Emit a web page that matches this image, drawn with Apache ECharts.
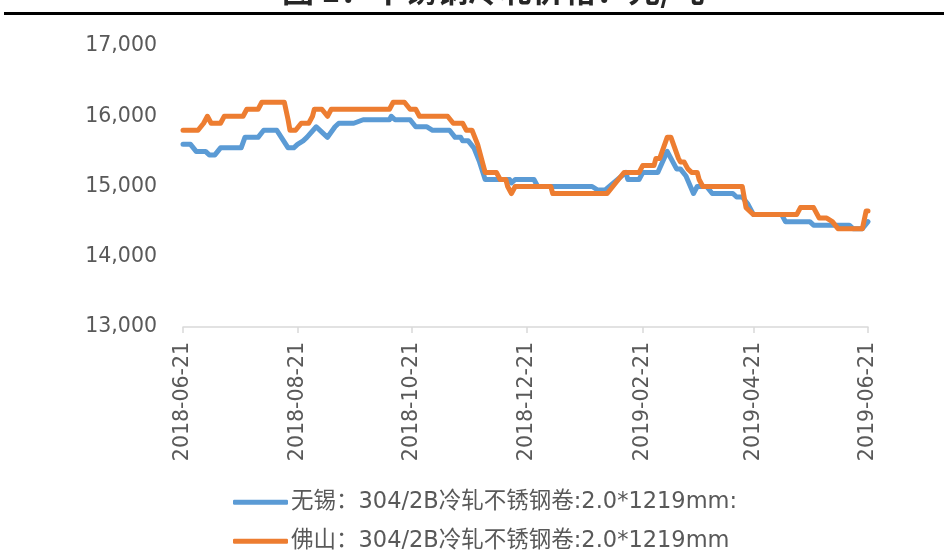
<!DOCTYPE html>
<html>
<head>
<meta charset="utf-8">
<script src="https://cdn.jsdelivr.net/npm/echarts@6/dist/echarts.min.js"></script>
<style>
  html, body { margin: 0; padding: 0; background: #fff; }
  #chart { width: 944px; height: 555px; }
</style>
</head>
<body>
<div id="chart"></div>
<script>
// 起点日期, 横轴按天偏移
const startDate = [2018, 5, 21];
const tickDates = ['2018-06-21', '2018-08-21', '2018-10-21', '2018-12-21', '2019-02-21', '2019-04-21', '2019-06-21'];
const yTicks = [13000, 14000, 15000, 16000, 17000];

// 无锡
const wuxiDays = [0, 4, 7, 12, 14, 17, 20, 31, 33, 40, 43, 50, 56, 59, 61, 64, 66, 71, 73, 77, 81, 83, 91, 96, 110, 111, 113, 121, 124, 130, 133, 142, 145, 148, 149, 152, 155, 158, 161, 174, 175, 177, 187, 189, 218, 221, 225, 236, 237, 243, 245, 253, 258, 261, 263, 265, 268, 272, 274, 279, 282, 293, 295, 298, 301, 304, 319, 321, 334, 336, 355, 357, 362, 365];
const wuxiValues = [15600, 15600, 15500, 15500, 15450, 15450, 15550, 15550, 15700, 15700, 15800, 15800, 15550, 15550, 15600, 15650, 15700, 15850, 15800, 15700, 15850, 15900, 15900, 15950, 15950, 16000, 15950, 15950, 15850, 15850, 15800, 15800, 15700, 15700, 15650, 15650, 15550, 15350, 15100, 15100, 15050, 15100, 15100, 15000, 15000, 14950, 14950, 15200, 15100, 15100, 15200, 15200, 15500, 15350, 15250, 15250, 15150, 14900, 15000, 15000, 14900, 14900, 14850, 14850, 14750, 14600, 14600, 14500, 14500, 14450, 14450, 14400, 14400, 14500];

// 佛山
const foshanDays = [0, 8, 11, 13, 15, 20, 22, 32, 34, 40, 42, 54, 56, 57, 60, 63, 67, 69, 70, 74, 77, 79, 110, 112, 118, 121, 124, 126, 141, 144, 149, 151, 154, 157, 161, 167, 169, 172, 173, 175, 177, 196, 197, 226, 235, 243, 245, 251, 252, 254, 258, 260, 264, 265, 267, 269, 271, 274, 275, 277, 298, 300, 304, 327, 329, 336, 339, 343, 346, 347, 349, 362, 364, 365];
const foshanValues = [15800, 15800, 15900, 16000, 15900, 15900, 16000, 16000, 16100, 16100, 16200, 16200, 15950, 15800, 15800, 15900, 15900, 16000, 16100, 16100, 16000, 16100, 16100, 16200, 16200, 16100, 16100, 16000, 16000, 15900, 15900, 15800, 15800, 15600, 15200, 15200, 15100, 15100, 15000, 14900, 15000, 15000, 14900, 14900, 15200, 15200, 15300, 15300, 15400, 15400, 15700, 15700, 15400, 15350, 15350, 15250, 15200, 15200, 15100, 15000, 15000, 14700, 14600, 14600, 14700, 14700, 14550, 14550, 14500, 14500, 14400, 14400, 14650, 14650];

const wuxiName = '无锡：304/2B冷轧不锈钢卷:2.0*1219mm:';
const foshanName = '佛山：304/2B冷轧不锈钢卷:2.0*1219mm';

const DAY = 86400000;
const t0 = Date.UTC(startDate[0], startDate[1], startDate[2]);
function strToDay(s) {
    const p = s.split('-');
    return Math.round((Date.UTC(+p[0], +p[1] - 1, +p[2]) - t0) / DAY);
}
function pad(n) { return n < 10 ? '0' + n : '' + n; }
function dayToStr(d) {
    const t = new Date(t0 + d * DAY);
    return t.getUTCFullYear() + '-' + pad(t.getUTCMonth() + 1) + '-' + pad(t.getUTCDate());
}

const tickDays = tickDates.map(strToDay);
const wuxiData = wuxiDays.map((d, i) => [d, wuxiValues[i]]);
const foshanData = foshanDays.map((d, i) => [d, foshanValues[i]]);

const font = '"DejaVu Sans", "Noto Sans CJK SC", sans-serif';
const chart = echarts.init(document.getElementById('chart'));

// 图例: 两行, 各自一个
function makeLegend(name, top) {
    return {
        orient: 'vertical',
        left: 233,
        top: top,
        padding: 0,
        itemWidth: 55,
        itemHeight: 5,
        itemGap: 0,
        icon: 'roundRect',
        textStyle: { color: '#595959', fontSize: 22.5, fontFamily: font, padding: [0, 0, 0, -2] },
        data: [name]
    };
}

const option = {
    animation: false,
    backgroundColor: '#fff',
    color: ['#5b9bd5', '#ed7d31'],
    graphic: [
        {
            type: 'text',
            left: 282,
            top: -26,
            style: {
                text: '图 1：不锈钢冷轧价格：元/吨',
                font: 'bold 32px "Noto Sans CJK SC", sans-serif',
                fill: '#262626'
            }
        },
        {
            type: 'line',
            shape: { x1: 4, y1: 13.5, x2: 944, y2: 13.5 },
            style: { stroke: '#000', lineWidth: 3 }
        }
    ],
    grid: {
        left: 183,
        right: 76,
        top: 46,
        bottom: 228
    },
    legend: [makeLegend(wuxiName, 491), makeLegend(foshanName, 530)],
    xAxis: {
        type: 'value',
        min: tickDays[0],
        max: tickDays[tickDays.length - 1],
        splitLine: { show: false },
        axisLine: { lineStyle: { color: '#d9d9d9', width: 1.5 } },
        axisTick: {
            show: true,
            length: 6,
            customValues: tickDays,
            lineStyle: { color: '#d9d9d9', width: 1.5 }
        },
        axisLabel: {
            customValues: tickDays,
            rotate: 90,
            margin: 15,
            color: '#595959',
            fontSize: 20.5,
            fontFamily: font,
            formatter: function (v) { return dayToStr(v); }
        }
    },
    yAxis: {
        type: 'value',
        min: yTicks[0],
        max: yTicks[yTicks.length - 1],
        interval: 1000,
        splitLine: { show: false },
        axisLine: { show: false },
        axisTick: { show: false },
        axisLabel: {
            margin: 26,
            color: '#595959',
            fontSize: 20.5,
            fontFamily: font,
            formatter: function (v) { return v.toLocaleString('en-US'); }
        }
    },
    series: [
        {
            name: wuxiName,
            type: 'line',
            data: wuxiData,
            showSymbol: false,
            lineStyle: { width: 5, cap: 'round', join: 'round' }
        },
        {
            name: foshanName,
            type: 'line',
            data: foshanData,
            showSymbol: false,
            lineStyle: { width: 5, cap: 'round', join: 'round' }
        }
    ]
};
chart.setOption(option);
</script>
</body>
</html>
